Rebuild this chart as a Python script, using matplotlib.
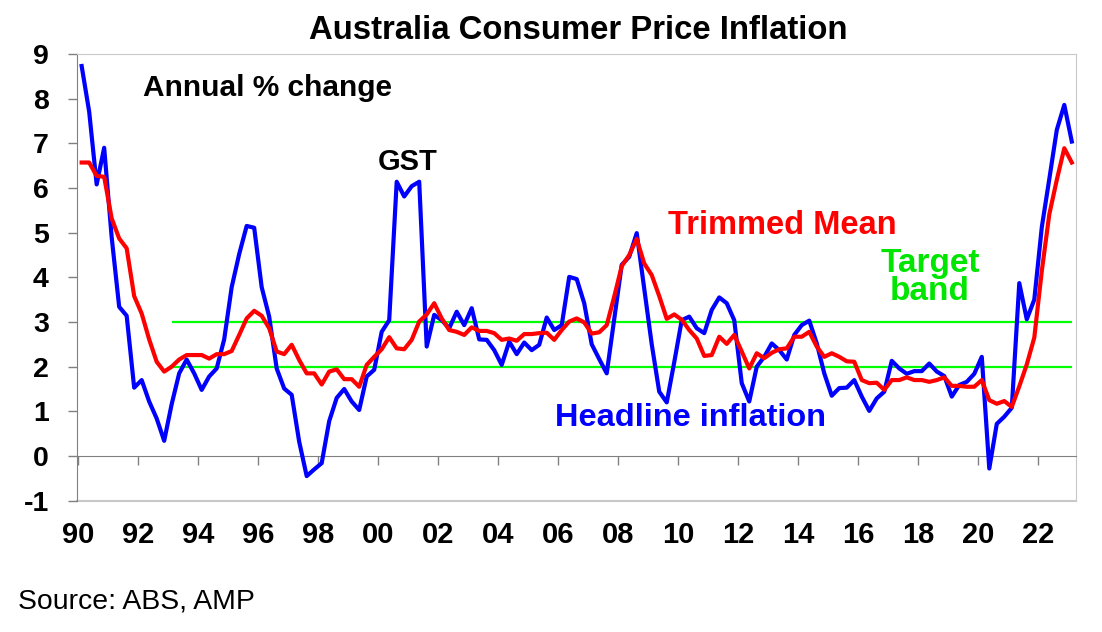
#--
#-- AUSTRALIA CONSUMER PRICE INFLATION - HEADLINE VS TRIMMED MEAN
#--
import numpy as np
import matplotlib
matplotlib.use("Agg")
import matplotlib.pyplot as plt
#--
#-- DATA: QUARTERLY, MAR 1990 TO MAR 2023, ANNUAL % CHANGE
start_year = 1990
headline = [
    8.73, 7.71, 6.08, 6.90, 4.90, 3.34, 3.14, 1.53, 1.70, 1.22, 0.84, 0.34,
    1.16, 1.85, 2.16, 1.85, 1.48, 1.78, 1.96, 2.61, 3.78, 4.52, 5.15, 5.11,
    3.78, 3.12, 1.96, 1.51, 1.37, 0.32, -0.45, -0.30, -0.16, 0.78, 1.30, 1.50,
    1.22, 1.03, 1.78, 1.93, 2.78, 3.04, 6.14, 5.81, 6.04, 6.14, 2.45, 3.16,
    3.04, 2.86, 3.23, 2.93, 3.31, 2.61, 2.60, 2.37, 2.04, 2.56, 2.28, 2.54,
    2.37, 2.49, 3.10, 2.82, 2.93, 4.01, 3.96, 3.42, 2.50, 2.17, 1.85, 3.07,
    4.28, 4.46, 4.99, 3.75, 2.50, 1.44, 1.20, 2.10, 3.04, 3.12, 2.86, 2.75,
    3.27, 3.55, 3.42, 3.04, 1.63, 1.22, 2.00, 2.22, 2.52, 2.37, 2.16, 2.71,
    2.93, 3.03, 2.52, 1.85, 1.35, 1.52, 1.53, 1.70, 1.33, 1.01, 1.29, 1.44,
    2.13, 1.96, 1.84, 1.90, 1.90, 2.07, 1.89, 1.79, 1.33, 1.59, 1.66, 1.84,
    2.22, -0.28, 0.72, 0.88, 1.08, 3.87, 3.06, 3.50, 5.12, 6.20, 7.30, 7.86,
    7.04,
]
trimmed_mean = [
    6.57, 6.57, 6.27, 6.25, 5.32, 4.87, 4.65, 3.58, 3.19, 2.61, 2.11, 1.89,
    2.00, 2.16, 2.26, 2.26, 2.26, 2.18, 2.28, 2.28, 2.35, 2.71, 3.08, 3.25,
    3.14, 2.86, 2.34, 2.28, 2.49, 2.15, 1.85, 1.85, 1.60, 1.89, 1.94, 1.72,
    1.72, 1.55, 2.04, 2.22, 2.39, 2.66, 2.41, 2.39, 2.60, 3.01, 3.17, 3.42,
    3.08, 2.82, 2.78, 2.71, 2.88, 2.80, 2.80, 2.75, 2.60, 2.63, 2.58, 2.73,
    2.73, 2.75, 2.76, 2.60, 2.82, 3.01, 3.08, 2.99, 2.74, 2.77, 2.93, 3.57,
    4.25, 4.50, 4.86, 4.31, 4.05, 3.58, 3.07, 3.17, 3.05, 2.82, 2.63, 2.24,
    2.26, 2.67, 2.51, 2.71, 2.34, 1.96, 2.30, 2.19, 2.31, 2.39, 2.41, 2.67,
    2.67, 2.78, 2.45, 2.22, 2.30, 2.22, 2.12, 2.11, 1.70, 1.63, 1.64, 1.48,
    1.70, 1.70, 1.76, 1.70, 1.70, 1.66, 1.70, 1.76, 1.57, 1.57, 1.55, 1.55,
    1.70, 1.25, 1.17, 1.23, 1.10, 1.56, 2.05, 2.65, 4.14, 5.41, 6.18, 6.89,
    6.57,
]
band_low, band_high = 2, 3
band_start, band_end = 1993, 2023
year_labels = ["90", "92", "94", "96", "98", "00", "02", "04", "06", "08",
               "10", "12", "14", "16", "18", "20", "22"]
y_ticks = [-1, 0, 1, 2, 3, 4, 5, 6, 7, 8, 9]
#--
#-- X POSITIONS (DECIMAL YEARS)
x = start_year + np.arange(len(headline)) / 4.0
tick_pos = start_year - 0.125 + 2 * np.arange(len(year_labels))
#--
#-- FONTS
plt.rcParams['font.family'] = ['Liberation Sans', 'DejaVu Sans']
#--
#-- FIGURE
fig = plt.figure(figsize=(11.02, 6.32), dpi=100)
ax = fig.add_axes([0.0701, 0.2078, 0.9063, 0.7068])
#--
#-- TARGET BAND, SERIES
ax.hlines([band_low, band_high], band_start, band_end, colors='#00FF00', linewidth=1.6, zorder=2)
ax.plot(x, headline, color='#0000FF', linewidth=3.0, zorder=3)
ax.plot(x, trimmed_mean, color='#FF0000', linewidth=3.0, zorder=4)
#--
#-- AXES (MOVE SPINE FIRST, IT RESETS THE TICKS)
ax.spines['bottom'].set_position(('data', 0))
ax.spines['bottom'].set_color('#808080')
ax.spines['left'].set_color('#808080')
ax.spines['top'].set_color('#C8C8C8')
ax.spines['right'].set_color('#C8C8C8')
ax.axhline(-1, color='#C8C8C8', linewidth=1.5, clip_on=False, zorder=1)
ax.set_xlim(1989.853, 2023.14)
ax.set_ylim(-1, 9)
ax.set_yticks(y_ticks)
ax.set_yticklabels([str(v) for v in y_ticks], fontsize=20.5, fontweight='bold')
ax.set_xticks(tick_pos)
ax.set_xticklabels(year_labels, fontsize=21, fontweight='bold')
ax.tick_params(axis='y', direction='out', length=6.5, width=1, color='#808080', pad=14)
ax.tick_params(axis='x', direction='out', length=6.5, width=1, color='#808080', pad=40)
#--
#-- ANNOTATIONS
ax.text(1992.04, 8.24, "Annual % change", fontsize=21.5, fontweight='bold', ha='left', va='center')
ax.text(2000.88, 6.58, "GST", fontsize=21, fontweight='bold', ha='center', va='center')
ax.text(2013.34, 5.15, "Trimmed Mean", fontsize=23.5, fontweight='bold', color='#FF0000',
        ha='center', va='center')
ax.text(2018.28, 4.0, "Target\nband", fontsize=24, fontweight='bold', color='#00E600',
        ha='center', va='center', linespacing=0.85)
ax.text(2010.28, 0.85, "Headline inflation", fontsize=23.4, fontweight='bold', color='#0000FF',
        ha='center', va='center')
#--
#-- TITLE AND SOURCE
fig.text(0.5245, 0.9525, "Australia Consumer Price Inflation", fontsize=23.7, fontweight='bold',
         ha='center', va='center')
fig.text(0.0163, 0.049, "Source: ABS, AMP", fontsize=20.4, ha='left', va='center')
#--
fig.savefig("out.png", dpi=100)
